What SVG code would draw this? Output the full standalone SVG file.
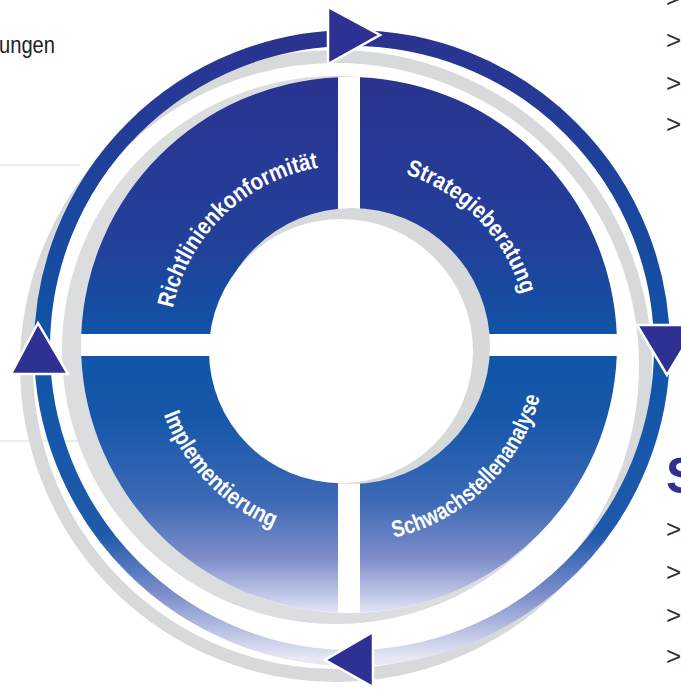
<svg xmlns="http://www.w3.org/2000/svg" width="681" height="689" viewBox="0 0 681 689">
  <defs>
    <linearGradient id="qg" gradientUnits="userSpaceOnUse" x1="0" y1="77" x2="0" y2="613">
      <stop offset="0" stop-color="#2b3390"/>
      <stop offset="0.32" stop-color="#22419a"/>
      <stop offset="0.5" stop-color="#0f55a8"/>
      <stop offset="0.64" stop-color="#1757a9"/>
      <stop offset="0.79" stop-color="#3d69b5"/>
      <stop offset="0.9" stop-color="#7f8ecb"/>
      <stop offset="1" stop-color="#e2e5f4"/>
    </linearGradient>
    <linearGradient id="rg" gradientUnits="userSpaceOnUse" x1="0" y1="38" x2="0" y2="658">
      <stop offset="0" stop-color="#2b3390"/>
      <stop offset="0.5" stop-color="#0f55a8"/>
      <stop offset="0.8" stop-color="#1f59ab"/>
      <stop offset="0.9" stop-color="#8090cc"/>
      <stop offset="1" stop-color="#e6e8f5"/>
    </linearGradient>
    <path id="pTL" d="M209.1,458.3 A180,180 0 0 1 467.1,209.2"/>
    <path id="pTR" d="M235.7,205.1 A180,180 0 0 1 484.8,463.1"/>
    <path id="pBL" d="M199.6,215.1 A198,198 0 0 0 473.6,498.9"/>
    <path id="pBR" d="M219.1,494.4 A198,198 0 0 0 502.9,220.4"/>
  </defs>
  <style>
    .quad { fill: url(#qg); }
    .lbl { font-family: "Liberation Sans", Arial, sans-serif; font-weight: bold; font-size: 23.5px; fill: #ffffff; }
    .ring { fill: none; stroke: url(#rg); stroke-width: 16; }
    .arrow { fill: #2e3192; stroke: #ffffff; stroke-width: 2.5; stroke-linejoin: miter; }
    .bullet { font-family: "Liberation Sans", Arial, sans-serif; font-size: 26px; fill: #333333; }
    .faint { stroke: #e4e4ec; stroke-width: 1.5; }
  </style>

  <g id="background">
    <rect width="681" height="689" fill="#ffffff"/>
    <line class="faint" x1="0" y1="165" x2="80" y2="165"/>
    <line class="faint" x1="0" y1="441" x2="90" y2="441"/>
    <text x="-1" y="53" font-family="Liberation Sans, Arial, sans-serif" font-size="24" fill="#222222" textLength="56" lengthAdjust="spacingAndGlyphs">ungen</text>
    <text class="bullet" x="666" y="7">&gt;</text>
    <text class="bullet" x="666" y="49">&gt;</text>
    <text class="bullet" x="666" y="92">&gt;</text>
    <text class="bullet" x="666" y="133">&gt;</text>
    <text x="666" y="493" font-family="Liberation Sans, Arial, sans-serif" font-weight="bold" font-size="50" fill="#2e3192">S</text>
    <text class="bullet" x="666" y="538">&gt;</text>
    <text class="bullet" x="666" y="581">&gt;</text>
    <text class="bullet" x="666" y="624">&gt;</text>
    <text class="bullet" x="666" y="665">&gt;</text>
  </g>

  <g id="shadows">
    <circle cx="336" cy="366" r="309.5" fill="none" stroke="#d8d9db" stroke-width="13"/>
    <circle cx="336" cy="350" r="274" fill="#dcdddf"/>
    <circle cx="349" cy="345" r="268" fill="#ffffff"/>
  </g>

  <g id="connectors">
    <path class="ring" d="M352,38 A310,310 0 0 1 662,348"/>
    <path class="ring" d="M662,348 A310,310 0 0 1 352,658"/>
    <path class="ring" d="M352,658 A310,310 0 0 1 42,348"/>
    <path class="ring" d="M42,348 A310,310 0 0 1 352,38"/>
    <polygon class="arrow" points="328,7 328,64 380,35"/>
    <polygon class="arrow" points="637,325 697,325 667,375"/>
    <polygon class="arrow" points="373,632 373,687 325,660"/>
    <polygon class="arrow" points="38,323 11,374 68,374"/>
  </g>

  <g id="richtlinienkonformitaet">
    <path class="quad" d="M81.23,334 A268,268 0 0 1 338,77.23 L338,217.47 A128,128 0 0 0 221.47,334 Z"/>
    <text class="lbl"><textPath href="#pTL" startOffset="50%" text-anchor="middle" textLength="215" lengthAdjust="spacingAndGlyphs">Richtlinienkonformität</textPath></text>
  </g>
  <g id="strategieberatung">
    <path class="quad" d="M360,77.23 A268,268 0 0 1 616.77,334 L476.53,334 A128,128 0 0 0 360,217.47 Z"/>
    <text class="lbl"><textPath href="#pTR" startOffset="50%" text-anchor="middle" textLength="174" lengthAdjust="spacingAndGlyphs">Strategieberatung</textPath></text>
  </g>
  <g id="schwachstellenanalyse">
    <path class="quad" d="M616.77,356 A268,268 0 0 1 360,612.77 L360,472.53 A128,128 0 0 0 476.53,356 Z"/>
    <text class="lbl"><textPath href="#pBR" startOffset="50%" text-anchor="middle" textLength="213" lengthAdjust="spacingAndGlyphs">Schwachstellenanalyse</textPath></text>
  </g>
  <g id="implementierung">
    <path class="quad" d="M338,612.77 A268,268 0 0 1 81.23,356 L221.47,356 A128,128 0 0 0 338,472.53 Z"/>
    <text class="lbl"><textPath href="#pBL" startOffset="50%" text-anchor="middle" textLength="162" lengthAdjust="spacingAndGlyphs">Implementierung</textPath></text>
  </g>

  <g id="hub">
    <circle cx="352" cy="346" r="138" fill="#d7d8da"/>
    <circle cx="341" cy="351" r="132" fill="#ffffff"/>
  </g>
</svg>
